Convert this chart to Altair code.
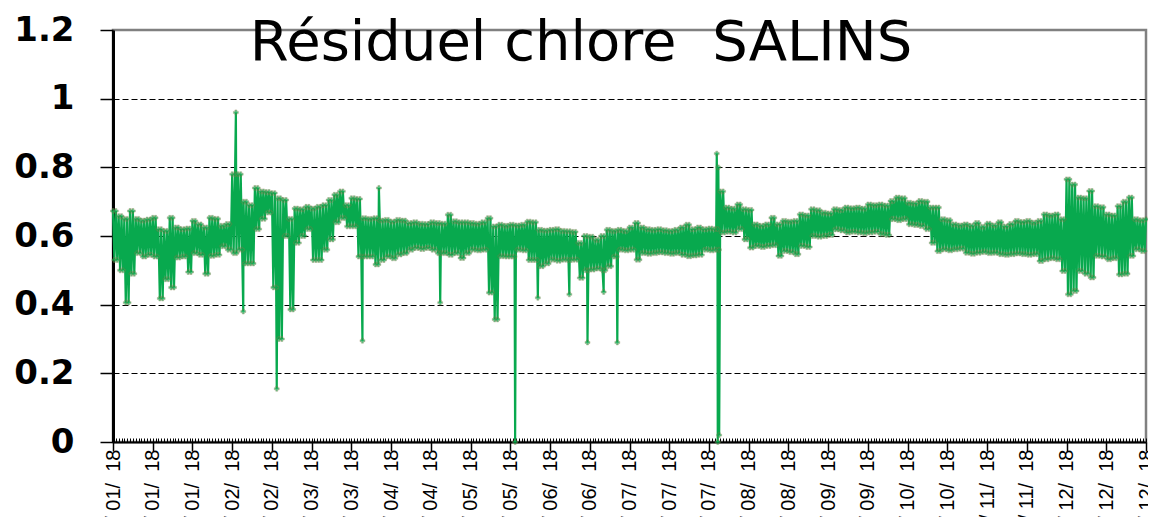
import altair as alt
import pandas as pd

TITLE = "Résiduel chlore\u00a0 SALINS"
YEAR = 2018
BIN_DAYS = 2          # the band is read as one high and one low per two-day bin
STEP = 0.5            # each bin is drawn as high, low, high, low (as the logger did)

# High of the band in each two-day bin
HIGH = [
    0.673, 0.658, 0.650, 0.673, 0.650, 0.645, 0.648, 0.653, 0.620, 0.615,
    0.653, 0.625, 0.620, 0.622, 0.644, 0.634, 0.625, 0.653, 0.650, 0.630,
    0.635, 0.780, 0.780, 0.700, 0.690, 0.740, 0.730, 0.728, 0.725, 0.710,
    0.705, 0.650, 0.680, 0.678, 0.685, 0.680, 0.685, 0.690, 0.705, 0.720,
    0.730, 0.690, 0.710, 0.708, 0.652, 0.650, 0.652, 0.645, 0.647, 0.642,
    0.647, 0.645, 0.638, 0.640, 0.636, 0.635, 0.640, 0.638, 0.636, 0.662,
    0.643, 0.640, 0.640, 0.638, 0.636, 0.640, 0.652, 0.628, 0.633, 0.630,
    0.633, 0.631, 0.633, 0.642, 0.640, 0.618, 0.616, 0.618, 0.620, 0.615,
    0.614, 0.612, 0.580, 0.600, 0.598, 0.589, 0.600, 0.618, 0.615, 0.618,
    0.615, 0.625, 0.638, 0.625, 0.620, 0.618, 0.620, 0.617, 0.615, 0.618,
    0.625, 0.633, 0.620, 0.625, 0.620, 0.622, 0.620, 0.730, 0.683, 0.680,
    0.692, 0.678, 0.676, 0.634, 0.630, 0.634, 0.653, 0.634, 0.644, 0.642,
    0.644, 0.663, 0.660, 0.678, 0.675, 0.668, 0.666, 0.678, 0.676, 0.683,
    0.681, 0.683, 0.680, 0.692, 0.690, 0.692, 0.689, 0.702, 0.712, 0.710,
    0.697, 0.695, 0.702, 0.700, 0.683, 0.683, 0.649, 0.646, 0.634, 0.631,
    0.634, 0.630, 0.638, 0.627, 0.636, 0.631, 0.640, 0.628, 0.635, 0.644,
    0.641, 0.644, 0.639, 0.644, 0.663, 0.660, 0.663, 0.649, 0.765, 0.750,
    0.712, 0.710, 0.731, 0.687, 0.684, 0.663, 0.660, 0.687, 0.700, 0.712,
    0.649, 0.646, 0.649,
]

# Low of the band in each two-day bin
LOW = [
    0.530, 0.500, 0.406, 0.490, 0.550, 0.540, 0.545, 0.540, 0.418, 0.474,
    0.450, 0.537, 0.540, 0.495, 0.550, 0.545, 0.490, 0.542, 0.545, 0.570,
    0.560, 0.550, 0.560, 0.520, 0.520, 0.620, 0.650, 0.668, 0.450, 0.300,
    0.600, 0.386, 0.580, 0.600, 0.620, 0.530, 0.530, 0.560, 0.590, 0.640,
    0.652, 0.628, 0.628, 0.540, 0.540, 0.540, 0.517, 0.530, 0.540, 0.535,
    0.546, 0.550, 0.560, 0.565, 0.562, 0.565, 0.560, 0.550, 0.550, 0.545,
    0.550, 0.536, 0.550, 0.560, 0.558, 0.560, 0.435, 0.357, 0.541, 0.540,
    0.540, 0.560, 0.558, 0.530, 0.530, 0.512, 0.520, 0.531, 0.528, 0.531,
    0.530, 0.531, 0.478, 0.500, 0.502, 0.505, 0.500, 0.512, 0.540, 0.560,
    0.558, 0.560, 0.531, 0.550, 0.548, 0.550, 0.552, 0.550, 0.548, 0.550,
    0.545, 0.541, 0.543, 0.545, 0.560, 0.558, 0.560, 0.610, 0.612, 0.610,
    0.620, 0.590, 0.566, 0.571, 0.568, 0.571, 0.573, 0.542, 0.556, 0.553,
    0.547, 0.571, 0.568, 0.600, 0.598, 0.600, 0.603, 0.619, 0.616, 0.610,
    0.612, 0.610, 0.608, 0.610, 0.612, 0.605, 0.603, 0.649, 0.646, 0.649,
    0.634, 0.632, 0.629, 0.620, 0.580, 0.556, 0.561, 0.558, 0.561, 0.563,
    0.551, 0.548, 0.551, 0.553, 0.550, 0.551, 0.547, 0.545, 0.547, 0.549,
    0.547, 0.545, 0.547, 0.527, 0.532, 0.535, 0.532, 0.498, 0.430, 0.440,
    0.498, 0.490, 0.479, 0.542, 0.540, 0.532, 0.535, 0.488, 0.490, 0.542,
    0.561, 0.556,
]

# Isolated readings far outside the band (day of year, value)
SPIKE_DAYS = [43.3, 45.9, 57.7, 87.9, 93.7, 115.3, 141.7, 149.7, 160.8,
              167.2, 172.9, 177.7, 212.75, 213.1, 213.3, 213.6]
SPIKE_VALUES = [0.96, 0.38, 0.155, 0.295, 0.74, 0.406, 0.0, 0.42, 0.43,
                0.29, 0.437, 0.29, 0.84, 0.0, 0.80, 0.02]

Y_TICKS = [0, 0.2, 0.4, 0.6, 0.8, 1.0, 1.2]
X_TICK_DAYS = list(range(0, 365, 14))
MINOR_TICK_DAYS = list(range(0, 365))
LAST_DAY = 364

GREEN = "#08a94e"

rows = []
for b, hi in enumerate(HIGH):
    start = b * BIN_DAYS
    pattern = [hi] if b >= len(LOW) else [hi, LOW[b], hi, LOW[b]]
    for k, v in enumerate(pattern):
        d = start + k * STEP
        if d <= LAST_DAY:
            rows.append({"day": d, "value": v})
for d, v in zip(SPIKE_DAYS, SPIKE_VALUES):
    rows.append({"day": d, "value": v})
series = pd.DataFrame(rows).sort_values("day").reset_index(drop=True)

x_scale = alt.Scale(domain=[0, LAST_DAY], nice=False, zero=False)
y_enc = alt.Y(
    "value:Q",
    scale=alt.Scale(domain=[0, 1.2], nice=False),
    axis=alt.Axis(
        values=Y_TICKS,
        format="~g",
        labelFont="DejaVu Sans",
        labelFontWeight="bold",
        labelFontSize=34,
        labelColor="black",
        labelPadding=26,
        tickSize=13,
        tickColor="black",
        tickWidth=1.5,
        domainColor="black",
        domainWidth=3,
        grid=True,
        gridColor={"condition": {"test": "datum.value === 0 || datum.value >= 1.19",
                                 "value": "transparent"},
                   "value": "black"},
        gridDash=[6, 3],
        gridWidth=1,
        title=None,
        labelFlush=False,
        labelOverlap=False,
    ),
)

NB = "\u00a0"
line = alt.Chart(series).mark_line(color=GREEN, strokeWidth=2.2).encode(
    x=alt.X(
        "day:Q",
        scale=x_scale,
        axis=alt.Axis(
            values=X_TICK_DAYS,
            labelExpr=f"timeFormat(datetime({YEAR}, 0, 1 + datum.value), '%d/{NB}%m/{NB}{NB}%y')",
            labelAngle=-90,
            labelFont="Liberation Sans, Arial",
            labelFontSize=20,
            labelColor="black",
            labelPadding=-2,
            labelFlush=False,
            labelOverlap=False,
            tickSize=9,
            tickWidth=1.5,
            tickColor="black",
            domainColor="black",
            domainWidth=2,
            grid=False,
            title=None,
        ),
    ),
    y=y_enc,
    order="day:Q",
)

points = alt.Chart(series).mark_point(
    shape="cross", filled=True, size=24, color=GREEN, stroke="#8a7d4d", strokeWidth=0.5
).encode(
    x=alt.X(
        "day:Q",
        scale=x_scale,
        axis=alt.Axis(
            orient="top",
            offset=-412,
            values=MINOR_TICK_DAYS,
            labels=False,
            domain=False,
            tickSize=4,
            tickWidth=1,
            tickColor="black",
            grid=False,
            title=None,
        ),
    ),
    y=y_enc,
)

title = alt.Chart(pd.DataFrame({"t": [TITLE]})).mark_text(
    font="DejaVu Sans", fontSize=56, color="black", align="center", baseline="alphabetic"
).encode(text="t:N", x=alt.value(468), y=alt.value(30))

chart = (
    alt.layer(line, points, title)
    .resolve_axis(x="independent")
    .properties(
        width=1033,
        height=412,
        autosize=alt.AutoSizeParams(type="none"),
        padding={"left": 105, "top": 22, "right": 2, "bottom": 75},
    )
    .configure_view(stroke="#808080", strokeWidth=2.5)
)

chart.save("out.html", embed_options={"renderer": "svg", "actions": False})
